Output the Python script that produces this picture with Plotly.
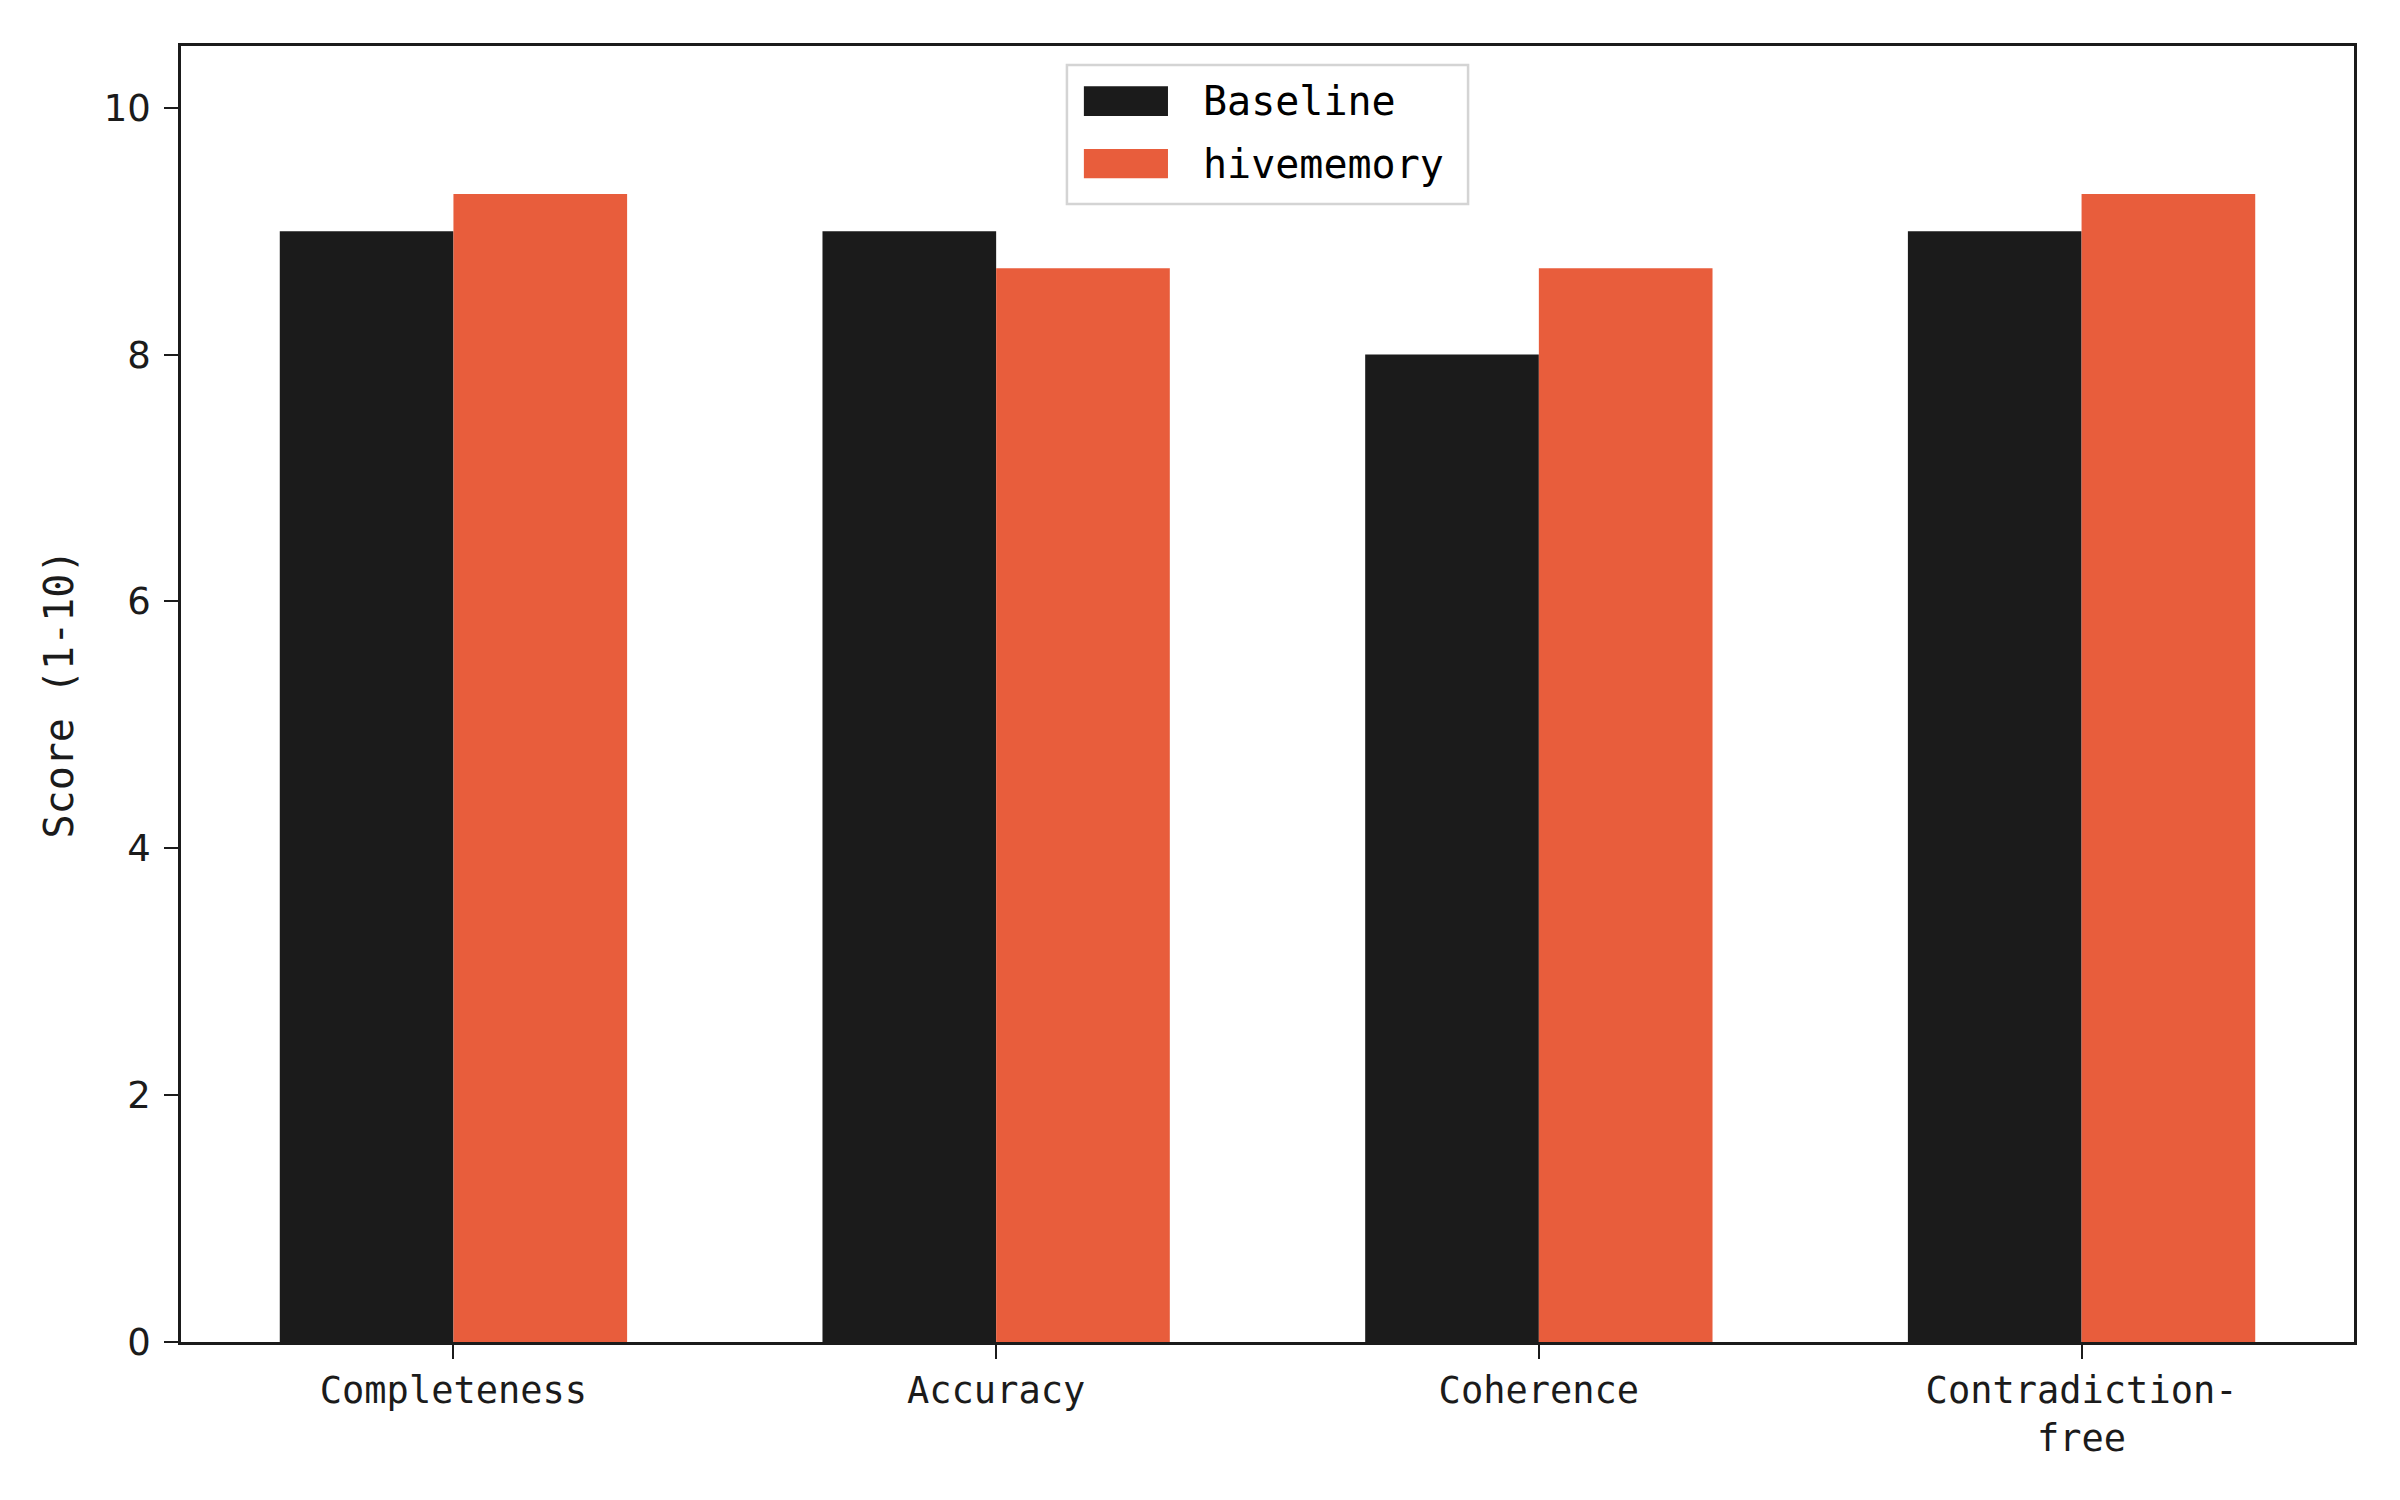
import plotly.graph_objects as go

categories = ["Completeness", "Accuracy", "Coherence", "Contradiction-<br>free"]
baseline = [9.0, 9.0, 8.0, 9.0]
hivememory = [9.3, 8.7, 8.7, 9.3]
series_names = ["Baseline", "hivememory"]
colors = ["#1b1b1b", "#e85d3c"]
yticks = [0, 2, 4, 6, 8, 10]

mono = "DejaVu Sans Mono"
sans = "DejaVu Sans"
ink = "#1b1b1b"

fig = go.Figure()
for name, vals, col in zip(series_names, [baseline, hivememory], colors):
    fig.add_trace(go.Bar(x=categories, y=vals, name=name, marker=dict(color=col, line=dict(width=0)),
                         showlegend=False))

fig.update_layout(
    width=2400, height=1500,
    margin=dict(l=173, r=54, t=38, b=166),
    paper_bgcolor="white", plot_bgcolor="white",
    barmode="group", bargap=0.36, bargroupgap=0,
    font=dict(family=mono, color=ink, size=37),
)
fig.update_xaxes(
    range=[-0.502, 3.502], showline=True, linecolor=ink, linewidth=2.5, mirror=True,
    ticks="outside", ticklen=14, tickwidth=2, tickcolor=ink, showgrid=False,
    tickfont=dict(family=mono, size=37, color=ink),
)
fig.update_yaxes(
    range=[0, 10.5], tickvals=yticks, showline=True, linecolor=ink, linewidth=2.5, mirror=True,
    ticks="outside", ticklen=14, tickwidth=2, tickcolor=ink, showgrid=False, zeroline=False,
    tickfont=dict(family=sans, size=37, color=ink), ticklabelstandoff=6,
    title=dict(text="Score (1-10)", font=dict(family=mono, size=40, color=ink), standoff=18),
)

# Legend box (custom to match large swatches)
fig.add_shape(type="rect", xref="paper", yref="paper", x0=0.4077, x1=0.5923, y0=0.878, y1=0.9853,
              line=dict(color="#d4d4d4", width=2.5), fillcolor="rgba(255,255,255,0.85)", layer="above")
leg_y = [(0.946, 0.969), (0.898, 0.9205)]
for (y0, y1), name, col in zip(leg_y, series_names, colors):
    fig.add_shape(type="rect", xref="paper", yref="paper", x0=0.4155, x1=0.4542, y0=y0, y1=y1,
                  line=dict(width=0), fillcolor=col, layer="above")
    fig.add_annotation(xref="paper", yref="paper", x=0.4693, y=(y0 + y1) / 2, text=name,
                       showarrow=False, xanchor="left", yanchor="middle",
                       font=dict(family=mono, size=40, color="black"))

fig.write_html("out.html")
